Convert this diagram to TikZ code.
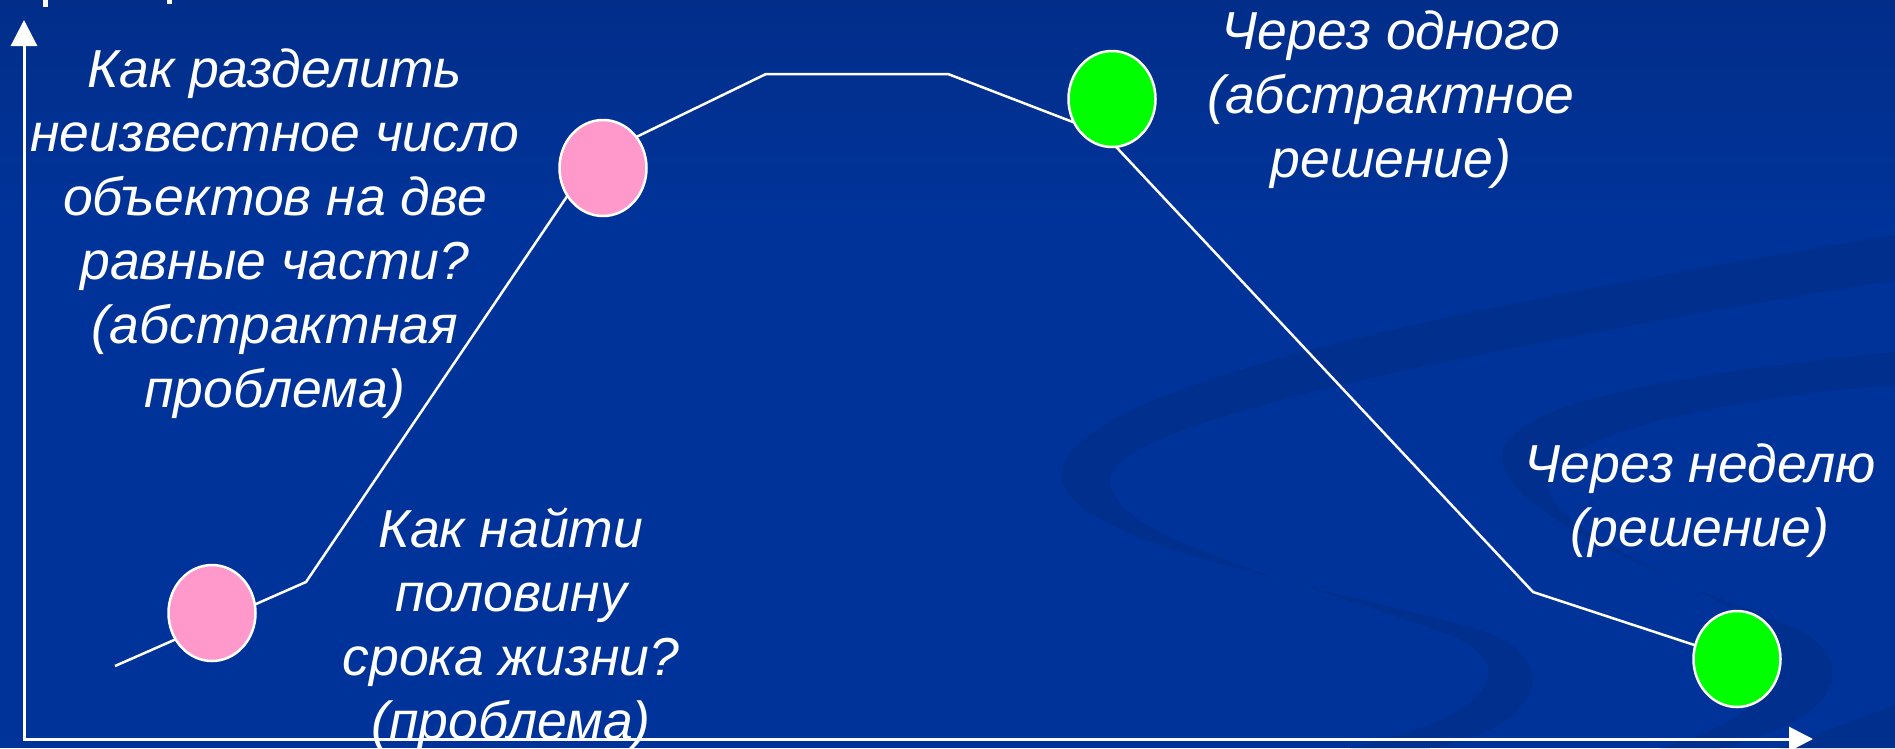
\documentclass[tikz,border=0pt]{standalone}
\usepackage{fontspec}
\setmainfont{Liberation Sans}
\usetikzlibrary{arrows.meta,shapes.geometric}
\definecolor{slidebg}{RGB}{0,51,153}
\definecolor{slidetop}{RGB}{2,46,138}
\definecolor{swirl}{RGB}{0,47,142}
\definecolor{dotpink}{RGB}{255,153,204}
\definecolor{dotgreen}{RGB}{0,255,0}
\begin{document}
\begin{tikzpicture}[x=1pt,y=-1pt,
  lbl/.style={text=white,font=\fontsize{53.5}{64}\selectfont\itshape,align=center,inner sep=0pt,anchor=north},
  dot/.style={ellipse,draw=white,line width=2.5pt,minimum width=87pt,minimum height=96pt,inner sep=0pt},
  pinkdot/.style={dot,fill=dotpink},
  greendot/.style={dot,fill=dotgreen},
  trend/.style={white,line width=2.5pt},
  axis/.style={white,line width=3pt},
  ribbon/.style={fill=swirl}]
\useasboundingbox (0,0) rectangle (1895,748);

% slide background
\fill[slidebg] (0,0) rectangle (1895,748);
\shade[top color=slidetop,bottom color=slidebg] (0,0) rectangle (1895,220);

% decorative swirls
\begin{scope}
\clip (0,0) rectangle (1895,748);
\fill[ribbon] (1895,235) .. controls (1500,300) and (1080,380) .. (1062,470)
  .. controls (1050,540) and (1300,580) .. (1480,630)
  .. controls (1570,660) and (1540,730) .. (1430,748)
  -- (1350,748)
  .. controls (1480,720) and (1530,670) .. (1450,635)
  .. controls (1300,580) and (1110,540) .. (1110,480)
  .. controls (1110,420) and (1500,345) .. (1895,280) -- cycle;
\fill[ribbon] (1895,352) .. controls (1700,372) and (1500,400) .. (1502,458)
  .. controls (1505,520) and (1700,590) .. (1800,630)
  .. controls (1860,665) and (1840,720) .. (1720,748)
  -- (1660,748)
  .. controls (1780,715) and (1800,660) .. (1740,615)
  .. controls (1680,575) and (1550,530) .. (1548,485)
  .. controls (1546,440) and (1700,400) .. (1895,385) -- cycle;
\fill[ribbon] (1780,748) -- (1895,705) -- (1895,748) -- cycle;
\end{scope}

% cut-off marks at the top edge
\fill[white] (43,0) rectangle (48,7);
\fill[white] (167,0) rectangle (172,4);

% axes
\coordinate (O) at (24,739);
\coordinate (ytip) at (24,20);
\coordinate (xtip) at (1813,739);
\draw[axis,{Triangle[length=26pt,width=26pt]}-{Triangle[length=24pt,width=24pt]}] (ytip) -- (O) -- (xtip);

% trend line
\coordinate (s0) at (115,666);
\coordinate (b1) at (306,582);
\coordinate (b2) at (593,158);
\coordinate (b3) at (766,74);
\coordinate (b4) at (948,74);
\coordinate (b5) at (1104,134);
\coordinate (b6) at (1533,592);
\coordinate (e0) at (1737,659);
\draw[trend] (s0) -- (b1) -- (b2) -- (b3) -- (b4) -- (b5) -- (b6) -- (e0);

% stages
\node[pinkdot] (p1) at (212,613) {};
\node[pinkdot] (p2) at (603,168) {};
\node[greendot] (g1) at (1112,99) {};
\node[greendot] (g2) at (e0) {};

% captions
\node[lbl] (q1) at (275,48.7) {Как разделить\\неизвестное число\\объектов на две\\равные части?\\(абстрактная\\проблема)};
\node[lbl] (q2) at (511,507.7) {Как найти\\половину\\срока жизни?\\(проблема)};
\node[lbl] (q3) at (1391,10.7) {Через одного\\(абстрактное\\решение)};
\node[lbl] (q4) at (1700,443.7) {Через неделю\\(решение)};
\end{tikzpicture}
\end{document}
